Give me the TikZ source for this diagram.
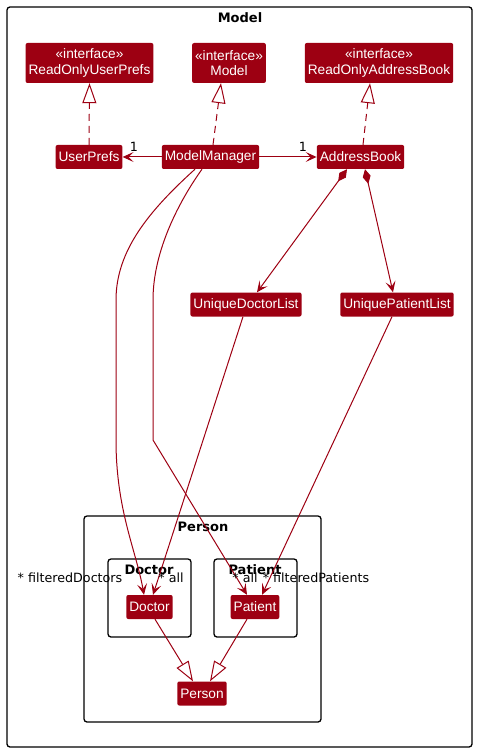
\documentclass[tikz,border=0pt]{standalone}
\usepackage{fontspec}
\setmainfont{Liberation Sans}
\newfontfamily\pkgfont{DejaVu Sans}
\usetikzlibrary{arrows.meta}
\definecolor{modelred}{HTML}{9D0012}

\begin{document}
\begin{tikzpicture}[x=1pt, y=-1pt,
cls/.style={rectangle, rounded corners=2pt, fill=modelred, text=white, font=\fontsize{13.7}{15.5}\selectfont, inner xsep=3pt, inner ysep=0pt, minimum height=24pt},
iface/.style={cls, align=center, minimum height=40pt},
pkg/.style={draw=black, line width=1.3pt, rounded corners=3pt},
pkgtitle/.style={font=\pkgfont\bfseries\fontsize{13}{15}\selectfont, inner sep=0pt},
role/.style={font=\pkgfont\fontsize{12.7}{15}\selectfont, inner sep=0pt},
assoc/.style={draw=modelred, line width=1pt, -{Stealth[length=11pt, width=10pt, inset=5pt]}},
realize/.style={draw=modelred, line width=1pt, dash pattern=on 7pt off 5pt, -{Triangle[open, length=20pt, width=14pt, fill=white]}},
extend/.style={draw=modelred, line width=1pt, -{Triangle[open, length=20pt, width=14pt, fill=white]}},
compose/.style={draw=modelred, line width=1pt, {Diamond[length=15pt, width=8pt]}-{Stealth[length=11pt, width=10pt, inset=5pt]}},
]
\useasboundingbox (0,0) rectangle (477,751);

% Packages
\draw[pkg] (7,7) rectangle (472,747);
\node[pkgtitle] (modeltitle) at (240,18) {Model};
\draw[pkg] (84,516) rectangle (321,722);
\node[pkgtitle] (persontitle) at (203,527) {Person};
\draw[pkg] (108,559) rectangle (191,637);
\node[pkgtitle] (doctortitle) at (149,570) {Doctor};
\draw[pkg] (214,559) rectangle (297,637);
\node[pkgtitle] (patienttitle) at (255,570) {Patient};

% Interfaces
\node[iface] (roup) at (89.5,63) {«interface»\\ReadOnlyUserPrefs};
\node[iface] (model) at (229,63) {«interface»\\Model};
\node[iface] (roab) at (379,63) {«interface»\\ReadOnlyAddressBook};

% Classes
\node[cls] (up) at (89,157) {UserPrefs};
\node[cls] (mm) at (210.5,157) {ModelManager};
\node[cls] (ab) at (360.5,157) {AddressBook};
\node[cls] (udl) at (246,304.5) {UniqueDoctorList};
\node[cls] (upl) at (397,304.5) {UniquePatientList};
\node[cls] (doc) at (149.5,607) {Doctor};
\node[cls] (pat) at (255,607) {Patient};
\node[cls] (per) at (202,693.5) {Person};

% Realizations
\draw[realize] (up.north) -- (roup.south);
\draw[realize] ([xshift=2.5pt]mm.north) -- ([xshift=-8pt]model.south);
\draw[realize] ([xshift=2.5pt]ab.north) -- ([xshift=-9pt]roab.south);

% Associations
\draw[assoc] (mm.west) -- (up.east);
\draw[assoc] (mm.east) -- (ab.west);
\node[role] (upmult) at (134,147) {1};
\node[role] (abmult) at (303,147) {1};

\draw[compose] ([xshift=-13.5pt]ab.south) -- ([xshift=11pt]udl.north);
\draw[compose] ([xshift=4.5pt]ab.south) -- ([xshift=-4pt]upl.north);

\draw[assoc] ([xshift=-15.5pt]mm.south) .. controls (150,210) and (116,250) .. (116,300)
  -- (116,440) .. controls (116,510) and (136,550) .. ([xshift=-5.5pt]doc.north);
\draw[assoc] ([xshift=-8.5pt]mm.south) .. controls (180,200) and (153,250) .. (153,300)
  -- (153,440) -- ([xshift=-8pt]pat.north);
\draw[assoc] ([xshift=-3pt]udl.south) -- ([xshift=3.5pt]doc.north);
\draw[assoc] ([xshift=-5pt]upl.south) -- ([xshift=7pt]pat.north);

\node[role] (fdoc) at (70,578) {* filteredDoctors};
\node[role] (alldoc) at (171,578) {* all};
\node[role] (allpat) at (245,578) {* all};
\node[role] (fpat) at (316,578) {* filteredPatients};

% Generalizations
\draw[extend] ([xshift=5.5pt]doc.south) -- ([xshift=-9pt]per.north);
\draw[extend] ([xshift=-8pt]pat.south) -- ([xshift=8pt]per.north);

\end{tikzpicture}
\end{document}
